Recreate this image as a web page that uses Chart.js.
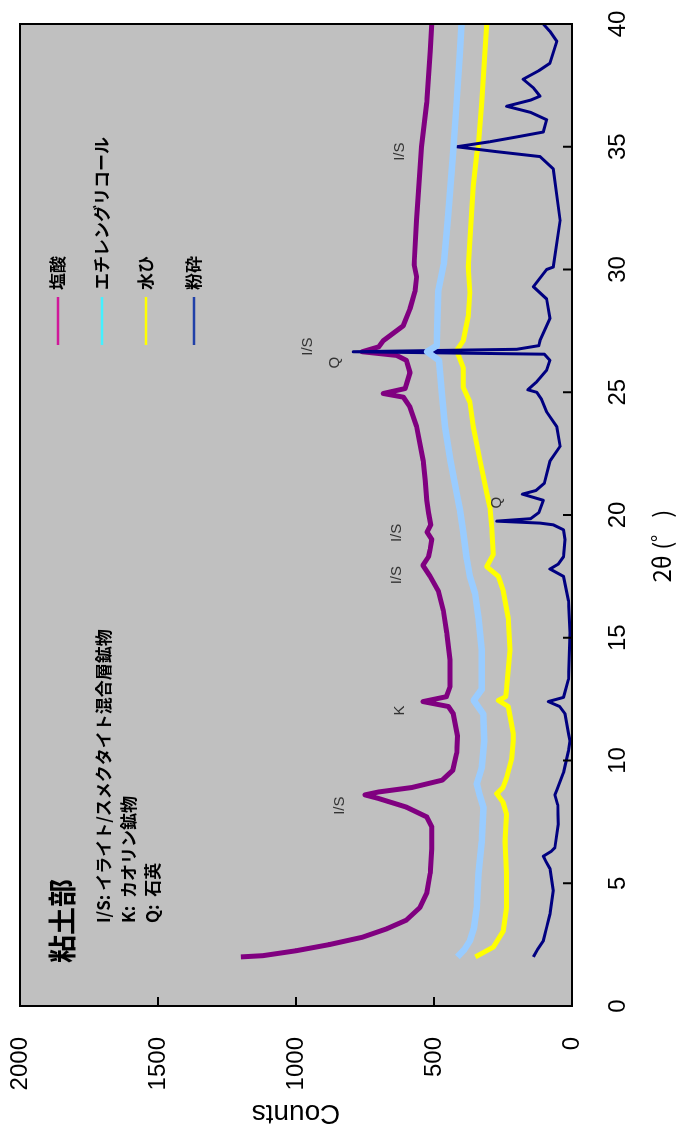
<!DOCTYPE html>
<html lang="ja">
<head>
<meta charset="UTF-8">
<title>粘土部 X線回折</title>
<script src="https://cdn.jsdelivr.net/npm/chart.js"></script>
<style>
  html, body { margin: 0; padding: 0; background: #fff; }
  body { width: 678px; height: 1140px; overflow: hidden; position: relative; }
  /* the chart is drawn lying down, then turned a quarter turn like the original */
  #wrap { position: absolute; left: 0; top: 0; width: 1140px; height: 678px;
          transform-origin: 0 0; transform: translateY(1140px) rotate(-90deg); }
</style>
</head>
<body>
<div id="wrap"><canvas id="chart" width="1140" height="678"></canvas></div>
<script>
// series: 2θ (deg) and counts
const hclTheta  = [2.0, 2.05, 2.25, 2.5, 2.8, 3.15, 3.5, 4.0, 4.6, 5.4, 6.4, 7.3, 7.7, 8.1, 8.45, 8.6, 8.72, 8.9, 9.2, 9.6, 10.3, 11.0, 11.9, 12.2, 12.4, 12.6, 13.0, 14.1, 15.2, 16.1, 16.9, 17.5, 17.95, 18.3, 18.6, 19.0, 19.3, 19.6, 20.1, 20.6, 21.4, 22.2, 23.6, 24.4, 24.8, 24.95, 25.15, 25.8, 26.3, 26.5, 26.65, 26.85, 27.1, 27.7, 28.4, 29.1, 29.7, 30.2, 32.0, 34.1, 35.0, 36.8, 38.9, 40.0];
const hclCounts = [1200, 1120, 1000, 880, 760, 670, 600, 552, 526, 514, 508, 508, 526, 600, 700, 750, 700, 580, 470, 432, 418, 415, 430, 448, 540, 455, 442, 442, 454, 466, 484, 514, 540, 520, 514, 508, 525, 512, 520, 526, 532, 539, 563, 587, 611, 684, 605, 587, 600, 635, 760, 700, 684, 612, 587, 569, 563, 572, 563, 551, 545, 526, 514, 508];

const egTheta  = [2.0, 2.3, 2.65, 3.2, 4.0, 5.4, 6.7, 8.1, 8.6, 9.06, 9.7, 10.8, 11.9, 12.45, 12.9, 14.5, 15.8, 16.8, 17.5, 18.2, 19.3, 20.2, 20.9, 22.2, 23.6, 25.0, 26.3, 26.65, 26.9, 27.7, 29.1, 30.2, 32.0, 34.7, 36.8, 38.9, 40.0];
const egCounts = [415, 390, 370, 355, 345, 339, 327, 321, 335, 345, 327, 318, 322, 356, 327, 327, 339, 351, 370, 381, 394, 406, 418, 440, 460, 472, 482, 525, 490, 488, 485, 465, 450, 431, 418, 406, 400];

const elutTheta  = [2.0, 2.4, 3.06, 4.0, 5.4, 6.7, 7.8, 8.3, 8.65, 8.9, 9.3, 10.1, 10.8, 11.1, 12.2, 12.45, 12.6, 12.9, 14.5, 15.8, 16.9, 17.5, 17.9, 18.4, 19.5, 20.3, 20.9, 22.2, 23.6, 24.6, 25.2, 26.0, 26.7, 27.1, 28.1, 29.06, 30.1, 33.4, 34.7, 35.0, 36.8, 38.9, 40.0];
const elutCounts = [350, 285, 249, 237, 237, 243, 237, 250, 273, 250, 237, 218, 213, 213, 231, 267, 240, 237, 225, 231, 249, 267, 309, 285, 291, 297, 309, 333, 358, 370, 394, 394, 418, 394, 376, 370, 376, 358, 345, 340, 327, 315, 309];

const grindTheta  = [2.0, 2.3, 2.65, 3.2, 3.75, 4.7, 5.6, 5.9, 6.1, 6.3, 6.45, 7.4, 8.2, 8.6, 8.8, 9.5, 10.4, 10.8, 11.1, 11.9, 12.2, 12.4, 12.57, 13.3, 15.2, 16.5, 17.5, 17.8, 18.0, 18.3, 19.0, 19.4, 19.6, 19.67, 19.75, 19.85, 20.1, 20.6, 20.85, 21.0, 21.3, 22.2, 22.8, 23.6, 24.2, 24.7, 25.0, 25.1, 25.4, 25.9, 26.3, 26.55, 26.65, 26.75, 26.9, 27.1, 28.0, 28.8, 29.3, 30.0, 30.1, 32.0, 34.1, 34.6, 34.8, 35.0, 35.2, 35.4, 35.6, 36.1, 36.4, 36.65, 36.9, 37.06, 37.4, 37.75, 38.1, 38.4, 39.3, 39.7, 40.0];
const grindCounts = [140, 125, 104, 92, 80, 68, 80, 95, 104, 75, 62, 50, 52, 62, 55, 31, 13, 7, 13, 25, 45, 86, 31, 13, 7, 13, 31, 80, 50, 31, 25, 31, 68, 116, 273, 150, 120, 104, 180, 130, 100, 80, 43, 55, 92, 110, 128, 160, 130, 92, 80, 100, 793, 200, 120, 116, 80, 92, 140, 92, 68, 43, 68, 116, 273, 418, 300, 200, 104, 92, 150, 237, 150, 116, 140, 177, 120, 80, 55, 80, 104];

const seriesNames = ['塩酸', 'エチレングリコール', '水ひ', '粉砕'];
const lineColors = ['#800080', '#99ccff', '#ffff00', '#000080'];
const legendColors = ['#d0189a', '#44f0ff', '#ffff00', '#2040a8'];

const peakText   = ['I/S', 'K', 'I/S', 'I/S', 'Q', 'I/S', 'Q', 'I/S'];
const peakTheta  = [8.16, 12.04, 17.55, 19.27, 20.5, 26.86, 26.2, 34.8];
const peakCounts = [840, 623, 635, 635, 273, 957, 859, 623];

const noteTitle = '粘土部';
const noteLines = ['I/S: イライト/スメクタイト混合層鉱物', 'K:  カオリン鉱物', 'Q:  石英'];
const xTitle = '2θ (゜)';

function pairs(xs, ys) {
    return xs.map((v, i) => ({ x: v, y: ys[i] }));
}

const jp = '"Noto Sans CJK JP", sans-serif';
const latin = '"Liberation Sans", Arial, sans-serif';

const decor = {
    id: 'decor',
    beforeDraw(chart) {
        const { ctx, chartArea: a } = chart;
        ctx.save();
        ctx.fillStyle = '#c0c0c0';
        ctx.fillRect(a.left, a.top, a.right - a.left, a.bottom - a.top);
        ctx.restore();
    },
    afterDatasetsDraw(chart) {
        const { ctx, chartArea: a, scales } = chart;
        const x = scales.x, y = scales.y;
        ctx.save();
        ctx.strokeStyle = '#000';
        ctx.lineWidth = 2;
        ctx.strokeRect(a.left, a.top, a.right - a.left, a.bottom - a.top);

        // tick marks point inwards
        ctx.beginPath();
        x.ticks.forEach(t => {
            const px = x.getPixelForValue(t.value);
            ctx.moveTo(px, a.bottom); ctx.lineTo(px, a.bottom - 9);
        });
        y.ticks.forEach(t => {
            const py = y.getPixelForValue(t.value);
            ctx.moveTo(a.left, py); ctx.lineTo(a.left + 9, py);
        });
        ctx.stroke();

        // peak labels
        ctx.fillStyle = '#333';
        ctx.font = '15px ' + latin;
        ctx.textAlign = 'center';
        ctx.textBaseline = 'middle';
        peakText.forEach((t, i) => {
            ctx.fillText(t, x.getPixelForValue(peakTheta[i]), y.getPixelForValue(peakCounts[i]));
        });

        // x-axis title sits a little left of centre in the original
        ctx.fillStyle = '#000';
        ctx.font = '24px ' + jp;
        ctx.fillText(xTitle, 594, 662);

        // notes
        ctx.textAlign = 'left';
        ctx.font = 'bold 28px ' + jp;
        ctx.fillText(noteTitle, 177, 62);
        ctx.font = 'bold 17px ' + jp;
        noteLines.forEach((t, i) => ctx.fillText(t, 217, 104 + i * 24.5));

        // legend
        const rows = [58, 102, 146, 194];
        ctx.font = 'bold 17px ' + jp;
        seriesNames.forEach((n, i) => {
            ctx.strokeStyle = legendColors[i];
            ctx.lineWidth = 2.5;
            ctx.beginPath();
            ctx.moveTo(795, rows[i]); ctx.lineTo(843, rows[i]);
            ctx.stroke();
            ctx.fillStyle = '#000';
            ctx.fillText(n, 850, rows[i]);
        });
        ctx.restore();
    }
};

const ds = (label, xs, ys, color, w) => ({
    label: label,
    data: pairs(xs, ys),
    borderColor: color,
    backgroundColor: color,
    borderWidth: w,
    borderJoinStyle: 'round',
    showLine: true,
    pointRadius: 0,
    tension: 0
});

function noPad(s) {
    s.paddingLeft = 0; s.paddingRight = 0; s.paddingTop = 0; s.paddingBottom = 0;
}

const chart = new Chart(document.getElementById('chart'), {
    type: 'scatter',
    data: {
        datasets: [
            ds(seriesNames[1], egTheta, egCounts, lineColors[1], 6.5),
            ds(seriesNames[3], grindTheta, grindCounts, lineColors[3], 3),
            ds(seriesNames[2], elutTheta, elutCounts, lineColors[2], 5),
            ds(seriesNames[0], hclTheta, hclCounts, lineColors[0], 5)
        ]
    },
    options: {
        responsive: false,
        animation: false,
        layout: { padding: { left: 0, right: 24, top: 20, bottom: 0 } },
        plugins: { legend: { display: false }, tooltip: { enabled: false } },
        scales: {
            x: {
                type: 'linear', min: 0, max: 40,
                grid: { display: false, drawTicks: false },
                border: { display: false },
                ticks: { stepSize: 5, padding: 32, color: '#000', maxRotation: 0,
                         font: { size: 24, family: latin } },
                afterFit: s => { s.height = 106; noPad(s); }
            },
            y: {
                type: 'linear', min: 0, max: 2000,
                grid: { display: false, drawTicks: false },
                border: { display: false },
                ticks: { stepSize: 500, padding: 31, color: '#000',
                         callback: v => String(v),
                         font: { size: 24, family: latin } },
                title: { display: true, text: 'Counts', color: '#000', padding: { top: 10 },
                         font: { size: 28, family: latin } },
                afterFit: s => { s.width = 134; noPad(s); }
            }
        }
    },
    plugins: [decor]
});
</script>
</body>
</html>
